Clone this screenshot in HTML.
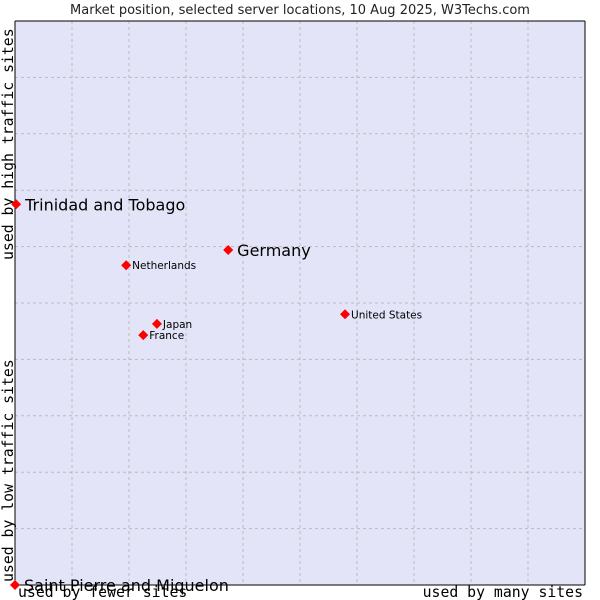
<!DOCTYPE html>
<html><head><meta charset="utf-8"><style>
body{margin:0;background:#fff;width:600px;height:600px;overflow:hidden}
svg{display:block}
</style></head><body>
<svg width="600" height="600" xmlns="http://www.w3.org/2000/svg">
<text x="300" y="14" text-anchor="middle" font-family="DejaVu Sans, sans-serif" font-size="13" fill="#222">Market position, selected server locations, 10 Aug 2025, W3Techs.com</text>
<rect x="15" y="21" width="570" height="564" fill="#e3e4f7" stroke="none"/>
<g id="grid"></g>
<line x1="15" y1="21" x2="15" y2="585" stroke="#000"/>
<line x1="15" y1="585" x2="585" y2="585" stroke="#000"/>
<line x1="15" y1="21" x2="585" y2="21" stroke="#000"/>
<line x1="585" y1="21" x2="585" y2="585" stroke="#000"/>
<g font-family="DejaVu Sans Mono, Liberation Mono, monospace" font-size="14.8" fill="#000">
<text x="18" y="597">used by fewer sites</text>
<text x="583" y="597" text-anchor="end">used by many sites</text>
<text transform="translate(13,582) rotate(-90)">used by low traffic sites</text>
<text transform="translate(13,260) rotate(-90)">used by high traffic sites</text>
</g>
<g id="points"></g>
</svg>
<script>
const names = ["Saint Pierre and Miquelon","Trinidad and Tobago","Germany","Netherlands","United States","Japan","France"];
const xVals = [0.0, 0.002, 0.374, 0.195, 0.579, 0.249, 0.225];
const yVals = [0.0, 0.675, 0.594, 0.567, 0.480, 0.463, 0.443];
const big = [true, true, true, false, false, false, false];
const NS = "http://www.w3.org/2000/svg";
const X0=15, X1=585, Y0=585, Y1=21;
const sx = v => X0 + v*(X1-X0);
const sy = v => Y0 - v*(Y0-Y1);
const grid = document.getElementById('grid');
for (let i=1;i<10;i++){
  const vx=document.createElementNS(NS,'line');
  vx.setAttribute('x1',sx(i/10));vx.setAttribute('x2',sx(i/10));
  vx.setAttribute('y1',Y1);vx.setAttribute('y2',Y0);
  vx.setAttribute('stroke','#bbb');vx.setAttribute('stroke-dasharray','3,3');
  
  
  grid.appendChild(vx);
  const hy=document.createElementNS(NS,'line');
  hy.setAttribute('y1',sy(i/10));hy.setAttribute('y2',sy(i/10));
  hy.setAttribute('x1',X0);hy.setAttribute('x2',X1);
  hy.setAttribute('stroke','#bbb');hy.setAttribute('stroke-dasharray','3,3');
  
  
  grid.appendChild(hy);
}
const pts = document.getElementById('points');
names.forEach((n,i)=>{
  const x=sx(xVals[i]), y=sy(yVals[i]);
  const d=document.createElementNS(NS,'polygon');
  d.setAttribute('points',`${x},${y-5} ${x+5},${y} ${x},${y+5} ${x-5},${y}`);
  d.setAttribute('fill','#f00');
  
  
  pts.appendChild(d);
  const t=document.createElementNS(NS,'text');
  t.setAttribute('x',x+(big[i]?9:6));
  t.setAttribute('y',y+(big[i]?6:4));
  t.setAttribute('font-family','DejaVu Sans, Liberation Sans, sans-serif');
  t.setAttribute('font-size',big[i]?'16':'10.5');
  t.setAttribute('fill','#000');
  t.textContent=n;
  
  
  pts.appendChild(t);
});
</script>
</body></html>
